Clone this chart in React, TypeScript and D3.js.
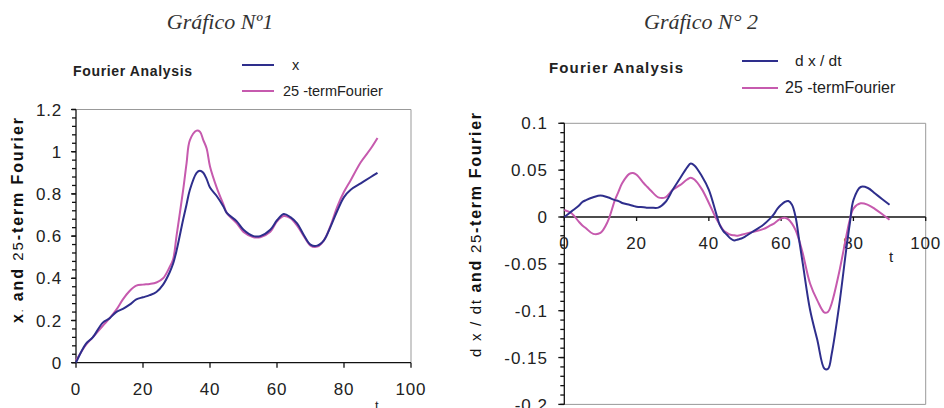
import { scaleLinear, line, curveCatmullRom, range } from 'd3'

const width = 944
const height = 408

const navy = '#2e2e8c'
const pink = '#c65aae'
const axisFont = '"Liberation Sans", Arial, sans-serif'

// Gráfico Nº1 : x and 25-term Fourier
const t1 = [0, 3, 5, 8, 10, 12, 14, 16, 18, 20, 22, 24, 26, 28, 29, 30, 32, 33, 34, 36, 37, 38, 39, 40, 42, 44, 45, 48, 50, 53, 55, 58, 60, 62, 64, 66, 68, 70, 72, 74, 76, 78, 80, 82, 85, 88, 90]
const x1 = [0, 0.09, 0.12, 0.19, 0.21, 0.24, 0.255, 0.275, 0.3, 0.31, 0.32, 0.335, 0.37, 0.43, 0.47, 0.53, 0.68, 0.75, 0.82, 0.9, 0.91, 0.9, 0.87, 0.83, 0.79, 0.74, 0.71, 0.67, 0.63, 0.6, 0.6, 0.63, 0.675, 0.705, 0.69, 0.66, 0.605, 0.56, 0.555, 0.58, 0.645, 0.72, 0.785, 0.82, 0.85, 0.88, 0.9]
const f1 = [0.01, 0.085, 0.12, 0.175, 0.21, 0.25, 0.3, 0.34, 0.365, 0.37, 0.373, 0.38, 0.4, 0.455, 0.49, 0.6, 0.82, 0.945, 1.055, 1.1, 1.095, 1.055, 1.015, 0.93, 0.83, 0.75, 0.71, 0.66, 0.62, 0.595, 0.595, 0.62, 0.67, 0.695, 0.685, 0.65, 0.6, 0.555, 0.55, 0.58, 0.65, 0.74, 0.81, 0.865, 0.95, 1.015, 1.065]

// Gráfico N° 2 : dx/dt and 25-term Fourier
const t2 = [0, 2, 4, 5, 6, 8, 10, 12, 14, 15, 16, 18, 19, 20, 22, 23, 24, 26, 28, 30, 32, 34, 35, 36, 38, 40, 42, 43, 44, 45, 46, 47, 48, 49, 50, 52, 55, 57, 58, 59, 60, 61, 62, 63, 64, 65, 66, 68, 70, 72, 73, 74, 76, 78, 79, 80, 82, 84, 86, 88, 90]
const d2 = [0, 0.006, 0.012, 0.016, 0.018, 0.021, 0.023, 0.021, 0.018, 0.017, 0.015, 0.013, 0.012, 0.011, 0.0105, 0.01, 0.01, 0.01, 0.016, 0.029, 0.041, 0.053, 0.057, 0.055, 0.044, 0.029, 0.004, -0.0085, -0.015, -0.019, -0.023, -0.025, -0.024, -0.023, -0.021, -0.016, -0.0085, -0.0015, 0.003, 0.009, 0.013, 0.016, 0.017, 0.013, 0, -0.025, -0.05, -0.099, -0.131, -0.162, -0.162, -0.146, -0.096, -0.035, -0.007, 0.018, 0.032, 0.031, 0.025, 0.019, 0.013]
const g2 = [0.0075, 0.004, -0.005, -0.009, -0.012, -0.018, -0.017, -0.005, 0.018, 0.027, 0.036, 0.046, 0.047, 0.045, 0.036, 0.032, 0.028, 0.021, 0.021, 0.029, 0.034, 0.04, 0.042, 0.04, 0.03, 0.015, -0.0015, -0.008, -0.014, -0.017, -0.019, -0.0195, -0.02, -0.019, -0.018, -0.016, -0.013, -0.009, -0.007, -0.004, -0.0015, -0.0007, -0.0025, -0.007, -0.014, -0.025, -0.039, -0.071, -0.089, -0.102, -0.101, -0.092, -0.06, -0.021, -0.003, 0.009, 0.0146, 0.013, 0.0085, 0.003, -0.003]

const xTicks = [0, 20, 40, 60, 80, 100]
const y1Ticks = [0, 0.2, 0.4, 0.6, 0.8, 1, 1.2]
const y2Ticks = [-0.2, -0.15, -0.1, -0.05, 0, 0.05, 0.1]

const fmt = (v: number) => String(+v.toFixed(2))

function App() {
  // chart 1 scales
  const xs1 = scaleLinear().domain([0, 100]).range([76, 411])
  const ys1 = scaleLinear().domain([0, 1.2]).range([362.7, 109.5])
  // chart 2 scales
  const xs2 = scaleLinear().domain([0, 100]).range([564.3, 925.7])
  const ys2 = scaleLinear().domain([-0.2, 0.1]).range([404.4, 123.3])

  const line1 = (vals: number[]) =>
    line<number>().x((_, i) => xs1(t1[i])).y(d => ys1(d)).curve(curveCatmullRom)(vals) || ''
  const line2 = (vals: number[]) =>
    line<number>().x((_, i) => xs2(t2[i])).y(d => ys2(d)).curve(curveCatmullRom)(vals) || ''

  const minor1 = range(0, 1.2001, 0.04)
  const minor2 = range(-0.2, 0.1001, 0.01)

  return (
    <svg width={width} height={height} style={{ position: 'absolute', left: 0, top: 0 }}
      fontFamily={axisFont}>
      <rect width={width} height={height} fill="white" />

      {/* ---------- Gráfico Nº1 ---------- */}
      <text x={220} y={29} textAnchor="middle" fontFamily='"Liberation Serif", "Times New Roman", serif'
        fontStyle="italic" fontSize={22} fill="#333">Gráfico Nº1</text>
      <text x={73} y={76} fontSize={14} fontWeight="bold" fill="#222" textLength={119}>Fourier Analysis</text>
      <line x1={242} x2={274} y1={65} y2={65} stroke={navy} strokeWidth={2} />
      <text x={292} y={70} fontSize={14.5} fill="#222">x</text>
      <line x1={242} x2={274} y1={91} y2={91} stroke={pink} strokeWidth={2} />
      <text x={283} y={96} fontSize={14.5} fill="#222">25 -termFourier</text>

      <text transform="translate(23,220.5) rotate(-90)" x={-102.5} fontSize={16} fill="#111"
        textLength={205} lengthAdjust="spacing">
        <tspan fontWeight="bold">x</tspan>
        <tspan fontSize={10}>.</tspan>
        <tspan fontWeight="bold">{' and  '}</tspan>
        <tspan fontSize={15}>25</tspan>
        <tspan fontWeight="bold">-term Fourier</tspan>
      </text>

      <path d={`M${xs1(0)},${ys1(1.2)}H${xs1(100)}V${ys1(0)}`} fill="none" stroke="#999" />
      {minor1.map(v => (
        <line key={'m1' + v} x1={xs1(0) - 4} x2={xs1(0)} y1={ys1(v)} y2={ys1(v)} stroke="#111" strokeWidth={1.3} />
      ))}
      {y1Ticks.map(v => (
        <g key={'y1' + v}>
          <line x1={xs1(0) - 5} x2={xs1(0)} y1={ys1(v)} y2={ys1(v)} stroke="#111" strokeWidth={1.3} />
          <text x={62} y={ys1(v)} dy="0.36em" textAnchor="end" fontSize={17} letterSpacing={0.8} fill="#222">{fmt(v)}</text>
        </g>
      ))}
      {xTicks.map(v => (
        <g key={'x1' + v}>
          <line x1={xs1(v)} x2={xs1(v)} y1={ys1(0)} y2={ys1(0) + 5} stroke="#111" strokeWidth={1.3} />
          <text x={xs1(v)} y={395} textAnchor="middle" fontSize={17} letterSpacing={0.8} fill="#222">{v}</text>
        </g>
      ))}
      <line x1={xs1(0)} x2={xs1(0)} y1={ys1(1.2)} y2={ys1(0)} stroke="#111" strokeWidth={1.3} />
      <line x1={xs1(0)} x2={xs1(100)} y1={ys1(0)} y2={ys1(0)} stroke="#111" strokeWidth={1.3} />
      <text x={375} y={410} fontSize={13} fill="#222">t</text>

      <path d={line1(f1)} fill="none" stroke={pink} strokeWidth={2} />
      <path d={line1(x1)} fill="none" stroke={navy} strokeWidth={2} />

      {/* ---------- Gráfico N° 2 ---------- */}
      <text x={701} y={29} textAnchor="middle" fontFamily='"Liberation Serif", "Times New Roman", serif'
        fontStyle="italic" fontSize={22} fill="#333">Gráfico N° 2</text>
      <text x={549} y={73} fontSize={15} fontWeight="bold" fill="#222" textLength={134}>Fourier Analysis</text>
      <line x1={742} x2={778} y1={61} y2={61} stroke={navy} strokeWidth={2} />
      <text x={795} y={66} fontSize={15.5} fill="#222">d x / dt</text>
      <line x1={742} x2={778} y1={88} y2={88} stroke={pink} strokeWidth={2} />
      <text x={785} y={93} fontSize={16} fill="#222">25 -termFourier</text>

      <text transform="translate(481,235) rotate(-90)" x={-122} fontSize={16} fill="#111"
        textLength={244} lengthAdjust="spacing">
        <tspan fontSize={15}>d x / dt </tspan>
        <tspan fontWeight="bold">{'and  '}</tspan>
        <tspan fontSize={15}>25</tspan>
        <tspan fontWeight="bold">-term Fourier</tspan>
      </text>

      <path d={`M${xs2(0)},${ys2(0.1)}H${xs2(100)}V${ys2(-0.2)}H${xs2(0)}`} fill="none" stroke="#999" />
      {minor2.map(v => (
        <line key={'m2' + v} x1={xs2(0) - 4} x2={xs2(0)} y1={ys2(v)} y2={ys2(v)} stroke="#111" strokeWidth={1.3} />
      ))}
      {y2Ticks.map(v => (
        <g key={'y2' + v}>
          <line x1={xs2(0) - 6} x2={xs2(0)} y1={ys2(v)} y2={ys2(v)} stroke="#111" strokeWidth={1.3} />
          <text x={548} y={ys2(v)} dy="0.36em" textAnchor="end" fontSize={17} letterSpacing={1} fill="#222">{fmt(v)}</text>
        </g>
      ))}
      <line x1={xs2(0)} x2={xs2(0)} y1={ys2(0.1)} y2={ys2(-0.2)} stroke="#111" strokeWidth={1.3} />
      <line x1={xs2(0)} x2={xs2(100)} y1={ys2(0)} y2={ys2(0)} stroke="#111" strokeWidth={1.3} />
      {xTicks.map(v => (
        <g key={'x2' + v}>
          <line x1={xs2(v)} x2={xs2(v)} y1={ys2(0)} y2={ys2(0) + 4} stroke="#111" strokeWidth={1.3} />
          <text x={xs2(v)} y={249} textAnchor="middle" fontSize={17} letterSpacing={0.8} fill="#222">{v}</text>
        </g>
      ))}
      <text x={891} y={262} textAnchor="middle" fontSize={15} fill="#222">t</text>

      <path d={line2(g2)} fill="none" stroke={pink} strokeWidth={2} />
      <path d={line2(d2)} fill="none" stroke={navy} strokeWidth={2} />
    </svg>
  )
}

export default App
